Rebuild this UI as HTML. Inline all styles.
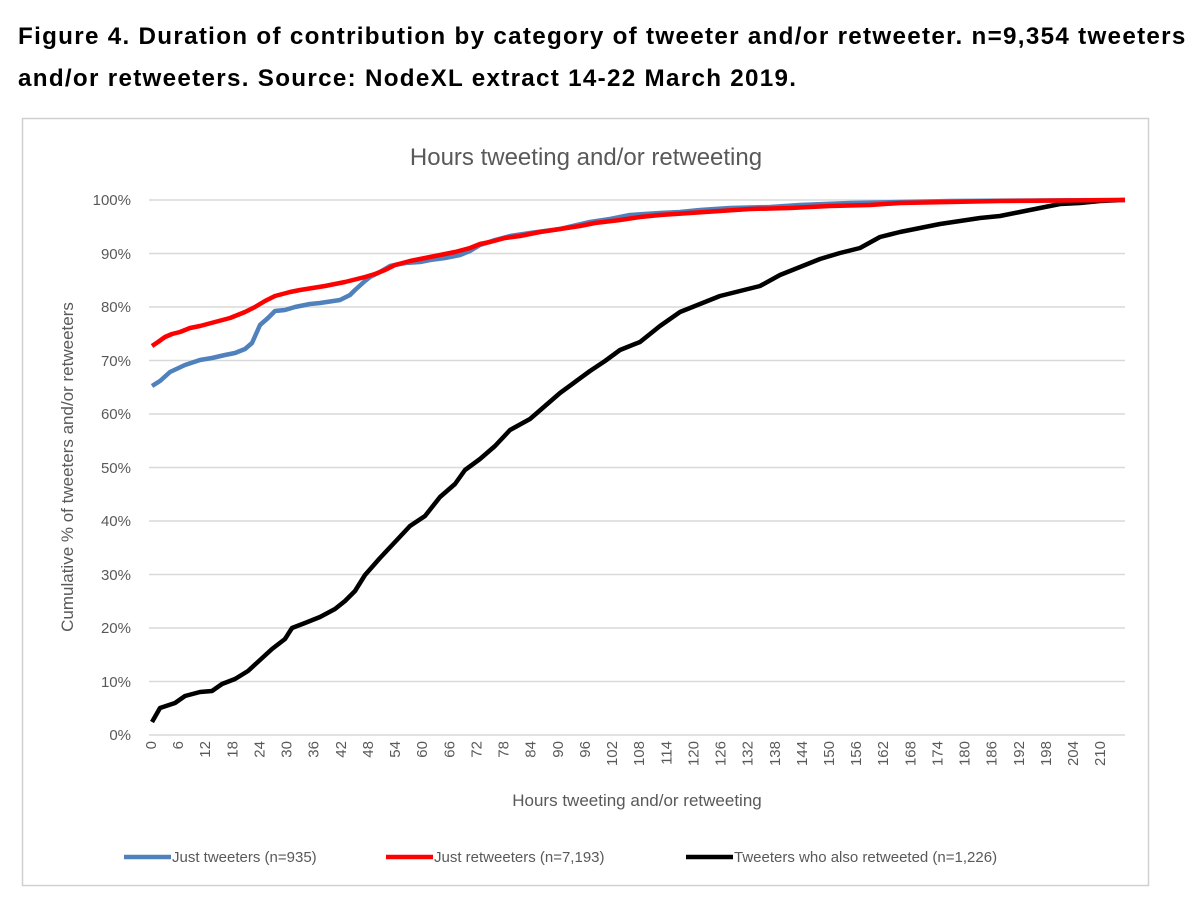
<!DOCTYPE html>
<html><head><style>
body{margin:0;background:#fff;width:1200px;height:912px;overflow:hidden;font-family:"Liberation Sans",sans-serif}
.t{position:absolute;left:18px;top:16px;font-weight:bold;font-size:24.2px;line-height:42px;color:#000;width:1182px;white-space:nowrap;letter-spacing:1.3px}
</style></head><body>
<div class="t">Figure 4. Duration of contribution by category of tweeter and/or retweeter. n=9,354 tweeters<br>and/or retweeters. Source: NodeXL extract 14-22 March 2019.</div>
<svg width="1200" height="912" style="position:absolute;left:0;top:0" font-family="Liberation Sans, sans-serif">
<rect x="22.5" y="118.5" width="1126" height="767" fill="none" stroke="#d0d0d0" stroke-width="1.5"/>
<text x="586" y="165" font-size="24" fill="#595959" text-anchor="middle">Hours tweeting and/or retweeting</text>
<g stroke="#d9d9d9" stroke-width="1.5">
<line x1="149" x2="1125" y1="200" y2="200"/><line x1="149" x2="1125" y1="253.5" y2="253.5"/><line x1="149" x2="1125" y1="307" y2="307"/><line x1="149" x2="1125" y1="360.5" y2="360.5"/><line x1="149" x2="1125" y1="414" y2="414"/><line x1="149" x2="1125" y1="467.5" y2="467.5"/><line x1="149" x2="1125" y1="521" y2="521"/><line x1="149" x2="1125" y1="574.5" y2="574.5"/><line x1="149" x2="1125" y1="628" y2="628"/><line x1="149" x2="1125" y1="681.5" y2="681.5"/><line x1="149" x2="1125" y1="735" y2="735"/>
</g>
<g font-size="15" fill="#595959" text-anchor="end">
<text x="131" y="205">100%</text><text x="131" y="259">90%</text><text x="131" y="312">80%</text><text x="131" y="366">70%</text><text x="131" y="419">60%</text><text x="131" y="473">50%</text><text x="131" y="526">40%</text><text x="131" y="580">30%</text><text x="131" y="633">20%</text><text x="131" y="687">10%</text><text x="131" y="740">0%</text>
</g>
<text transform="translate(73,467) rotate(-90)" font-size="17" fill="#595959" text-anchor="middle">Cumulative % of tweeters and/or retweeters</text>
<g id="xl" font-size="15" fill="#595959"></g>
<text x="637" y="806" font-size="17" fill="#595959" text-anchor="middle">Hours tweeting and/or retweeting</text>
<polyline fill="none" stroke="#000" stroke-width="4.5" stroke-linejoin="round" points="152,722 160,708 175,703 185,696 200,692 212,691 222,684 235,679 248,671 260,660 272,649 285,639 292,628 305,623 320,617 335,609 345,601 355,591 365,575 380,558 395,542 410,526 425,516 440,497 455,484 465,470 480,459 495,446 510,430 530,419 545,406 560,393 575,382 590,371 605,361 620,350 640,342 660,326 680,312 700,304 720,296 740,291 760,286 780,275 800,267 820,259 840,253 860,248 880,237 900,232 920,228 940,224 960,221 980,218 1000,216 1020,212 1040,208 1060,204 1080,203 1100,201 1125,200"/>
<polyline fill="none" stroke="#4f81bd" stroke-width="4.5" stroke-linejoin="round" points="152,386 160,381 170,372 185,365 200,360 212,358 225,355 235,353 245,349 252,343 260,325 268,318 275,311 285,310 295,307 310,304 320,303 340,300 350,295 355,290 365,281 370,277 380,272 390,266 405,263 420,262 430,260 445,258 460,255 470,251 480,245 495,240 510,236 530,233 560,229 590,222 610,219 630,215 660,213 680,212 700,210 730,208 770,207 800,205 850,203 950,201 1125,200"/>
<polyline fill="none" stroke="#ff0000" stroke-width="4.5" stroke-linejoin="round" points="152,346 158,342 165,337 172,334 180,332 190,328 200,326 215,322 230,318 245,312 255,307 265,301 275,296 290,292 300,290 325,286 345,282 365,277 375,274 385,270 395,265 410,261 430,257 455,252 470,248 480,244 490,242 505,238 520,236 540,232 560,229 580,226 595,223 620,220 640,217 660,215 690,213 720,211 750,209 790,208 830,206 870,205 900,203 1000,201 1125,200"/>
<g font-size="15" fill="#595959">
<line x1="124" x2="171" y1="857" y2="857" stroke="#4f81bd" stroke-width="4.5"/><text x="172" y="862">Just tweeters (n=935)</text>
<line x1="386" x2="433" y1="857" y2="857" stroke="#ff0000" stroke-width="4.5"/><text x="434" y="862">Just retweeters (n=7,193)</text>
<line x1="686" x2="733" y1="857" y2="857" stroke="#000" stroke-width="4.5"/><text x="734" y="862">Tweeters who also retweeted (n=1,226)</text>
</g>
</svg>
<script>
var g=document.getElementById('xl'),s='';
for(var h=0;h<=210;h+=6){var x=151+4.52*h+5;s+='<text transform="translate('+x+',741) rotate(-90)" text-anchor="end">'+h+'</text>';}
g.innerHTML=s;
</script>
</body></html>
